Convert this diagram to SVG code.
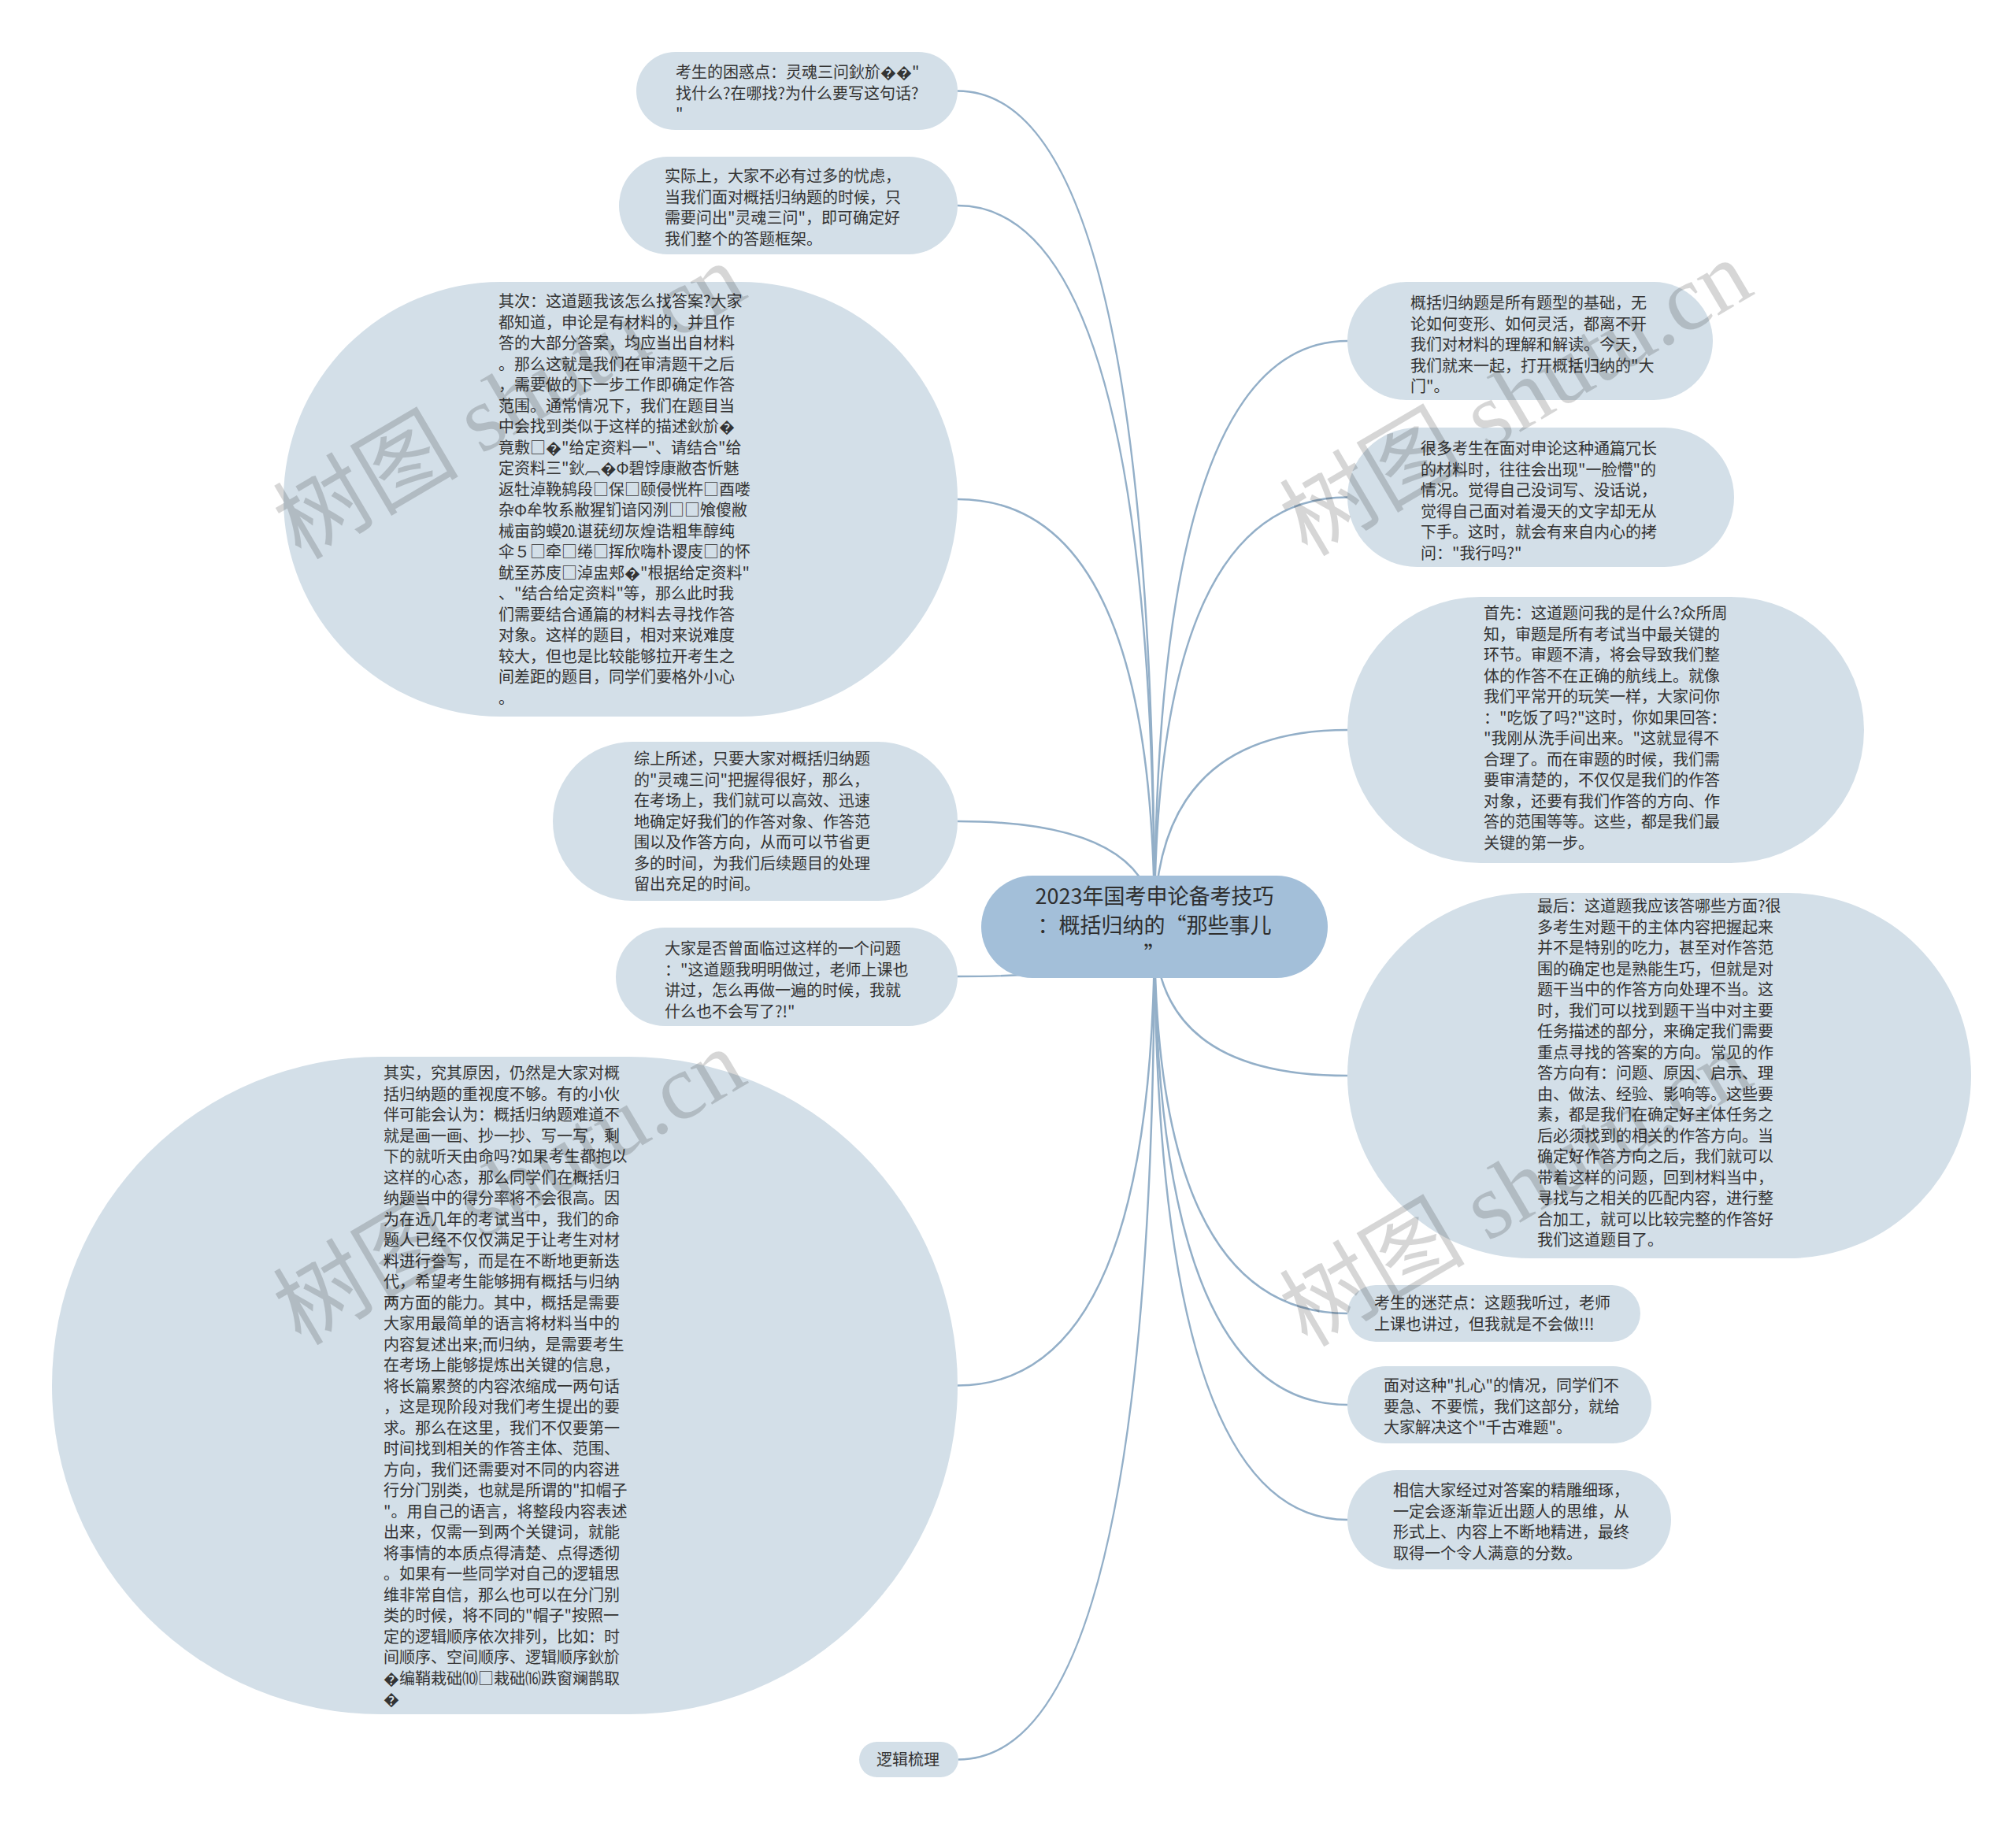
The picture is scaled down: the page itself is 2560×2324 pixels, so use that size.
<svg xmlns="http://www.w3.org/2000/svg" width="2560" height="2324" viewBox="0 0 2560 2324">
<style>
.node{fill:#d3dfe8}
.root{fill:#a3bfd9}
.t{font-family:"Noto Sans CJK SC","Noto Sans",sans-serif;font-size:20px;fill:#333}
.rt{font-family:"Noto Sans CJK SC","Noto Sans",sans-serif;font-size:27px;fill:#2e2e2e;text-anchor:middle}
.edge{fill:none;stroke:#93afc8;stroke-width:2.5}
.wm{font-family:"Liberation Serif","Noto Sans CJK SC",serif;font-size:118px;fill:#000;fill-opacity:0.16}
</style>
<rect width="2560" height="2324" fill="#ffffff"/>
<g id="connectors">
<path class="edge" d="M1466 1178 Q1466 115.5 1216 115.5"/>
<path class="edge" d="M1466 1178 Q1466 261 1216 261"/>
<path class="edge" d="M1466 1178 Q1466 634 1216 634"/>
<path class="edge" d="M1466 1178 Q1466 1043 1216 1043"/>
<path class="edge" d="M1466 1178 Q1466 1240 1216 1240"/>
<path class="edge" d="M1466 1178 Q1466 1759.5 1216 1759.5"/>
<path class="edge" d="M1466 1178 Q1466 2234.5 1217 2234.5"/>
<path class="edge" d="M1466 1178 Q1466 433 1711 433"/>
<path class="edge" d="M1466 1178 Q1466 631.5 1711 631.5"/>
<path class="edge" d="M1466 1178 Q1466 927 1711 927"/>
<path class="edge" d="M1466 1178 Q1466 1366 1711 1366"/>
<path class="edge" d="M1466 1178 Q1466 1668 1711 1668"/>
<path class="edge" d="M1466 1178 Q1466 1784 1711 1784"/>
<path class="edge" d="M1466 1178 Q1466 1930 1711 1930"/>
</g>
<g id="root">
<rect class="root" x="1246" y="1112" width="440" height="130" rx="65"/>
<text class="rt"><tspan x="1466" y="1148">2023年国考申论备考技巧</tspan><tspan x="1466" y="1185">：概括归纳的“那些事儿</tspan><tspan x="1466" y="1222">”</tspan></text>
</g>
<g id="n1">
<rect class="node" x="808" y="66" width="408" height="99" rx="49.5"/>
<text class="t"><tspan x="858" y="99">考生的困惑点：灵魂三问鈥斺��"</tspan><tspan x="858" y="125.5">找什么?在哪找?为什么要写这句话?</tspan><tspan x="858" y="152">"</tspan></text>
</g>
<g id="n2">
<rect class="node" x="786" y="199" width="430" height="124" rx="62"/>
<text class="t"><tspan x="844" y="231">实际上，大家不必有过多的忧虑，</tspan><tspan x="844" y="257.5">当我们面对概括归纳题的时候，只</tspan><tspan x="844" y="284">需要问出"灵魂三问"，即可确定好</tspan><tspan x="844" y="310.5">我们整个的答题框架。</tspan></text>
</g>
<g id="n3">
<rect class="node" x="360" y="358" width="856" height="552" rx="276"/>
<text class="t">
<tspan x="633" y="390">其次：这道题我该怎么找答案?大家</tspan>
<tspan x="633" y="416.5">都知道，申论是有材料的，并且作</tspan>
<tspan x="633" y="443">答的大部分答案，均应当出自材料</tspan>
<tspan x="633" y="469.5">。那么这就是我们在审清题干之后</tspan>
<tspan x="633" y="496">，需要做的下一步工作即确定作答</tspan>
<tspan x="633" y="522.5">范围。通常情况下，我们在题目当</tspan>
<tspan x="633" y="549">中会找到类似于这样的描述鈥斺�</tspan>
<tspan x="633" y="575.5">竟敷□�"给定资料一"、请结合"给</tspan>
<tspan x="633" y="602">定资料三"鈥︹�Φ碧饽康敝杏忻魅</tspan>
<tspan x="633" y="628.5">返牡淖鞔鸫段□保□颐侵恍杵□酉喽</tspan>
<tspan x="633" y="655">杂Φ牟牧系敝猩钔谙冈洌□□飧傻敝</tspan>
<tspan x="633" y="681.5">械亩韵蟆⒛谌莸纫灰煌诰粗隼醇纯</tspan>
<tspan x="633" y="708">伞５□牵□绻□挥欣嗨朴谡庋□的怀</tspan>
<tspan x="633" y="734.5">鱿至苏庋□淖盅郏�"根据给定资料"</tspan>
<tspan x="633" y="761">、"结合给定资料"等，那么此时我</tspan>
<tspan x="633" y="787.5">们需要结合通篇的材料去寻找作答</tspan>
<tspan x="633" y="814">对象。这样的题目，相对来说难度</tspan>
<tspan x="633" y="840.5">较大，但也是比较能够拉开考生之</tspan>
<tspan x="633" y="867">间差距的题目，同学们要格外小心</tspan>
<tspan x="633" y="893.5">。</tspan>
</text>
</g>
<g id="n4">
<rect class="node" x="702" y="942" width="514" height="202" rx="101"/>
<text class="t">
<tspan x="805" y="971">综上所述，只要大家对概括归纳题</tspan>
<tspan x="805" y="997.5">的"灵魂三问"把握得很好，那么，</tspan>
<tspan x="805" y="1024">在考场上，我们就可以高效、迅速</tspan>
<tspan x="805" y="1050.5">地确定好我们的作答对象、作答范</tspan>
<tspan x="805" y="1077">围以及作答方向，从而可以节省更</tspan>
<tspan x="805" y="1103.5">多的时间，为我们后续题目的处理</tspan>
<tspan x="805" y="1130">留出充足的时间。</tspan>
</text>
</g>
<g id="n5">
<rect class="node" x="782" y="1178" width="434" height="125" rx="62.5"/>
<text class="t">
<tspan x="844" y="1212">大家是否曾面临过这样的一个问题</tspan>
<tspan x="844" y="1238.5">："这道题我明明做过，老师上课也</tspan>
<tspan x="844" y="1265">讲过，怎么再做一遍的时候，我就</tspan>
<tspan x="844" y="1291.5">什么也不会写了?!"</tspan>
</text>
</g>
<g id="n6">
<rect class="node" x="66" y="1342" width="1150" height="835" rx="417.5"/>
<text class="t">
<tspan x="487" y="1370">其实，究其原因，仍然是大家对概</tspan>
<tspan x="487" y="1396.5">括归纳题的重视度不够。有的小伙</tspan>
<tspan x="487" y="1423">伴可能会认为：概括归纳题难道不</tspan>
<tspan x="487" y="1449.5">就是画一画、抄一抄、写一写，剩</tspan>
<tspan x="487" y="1476">下的就听天由命吗?如果考生都抱以</tspan>
<tspan x="487" y="1502.5">这样的心态，那么同学们在概括归</tspan>
<tspan x="487" y="1529">纳题当中的得分率将不会很高。因</tspan>
<tspan x="487" y="1555.5">为在近几年的考试当中，我们的命</tspan>
<tspan x="487" y="1582">题人已经不仅仅满足于让考生对材</tspan>
<tspan x="487" y="1608.5">料进行誊写，而是在不断地更新迭</tspan>
<tspan x="487" y="1635">代，希望考生能够拥有概括与归纳</tspan>
<tspan x="487" y="1661.5">两方面的能力。其中，概括是需要</tspan>
<tspan x="487" y="1688">大家用最简单的语言将材料当中的</tspan>
<tspan x="487" y="1714.5">内容复述出来;而归纳，是需要考生</tspan>
<tspan x="487" y="1741">在考场上能够提炼出关键的信息，</tspan>
<tspan x="487" y="1767.5">将长篇累赘的内容浓缩成一两句话</tspan>
<tspan x="487" y="1794">，这是现阶段对我们考生提出的要</tspan>
<tspan x="487" y="1820.5">求。那么在这里，我们不仅要第一</tspan>
<tspan x="487" y="1847">时间找到相关的作答主体、范围、</tspan>
<tspan x="487" y="1873.5">方向，我们还需要对不同的内容进</tspan>
<tspan x="487" y="1900">行分门别类，也就是所谓的"扣帽子</tspan>
<tspan x="487" y="1926.5">"。用自己的语言，将整段内容表述</tspan>
<tspan x="487" y="1953">出来，仅需一到两个关键词，就能</tspan>
<tspan x="487" y="1979.5">将事情的本质点得清楚、点得透彻</tspan>
<tspan x="487" y="2006">。如果有一些同学对自己的逻辑思</tspan>
<tspan x="487" y="2032.5">维非常自信，那么也可以在分门别</tspan>
<tspan x="487" y="2059">类的时候，将不同的"帽子"按照一</tspan>
<tspan x="487" y="2085.5">定的逻辑顺序依次排列，比如：时</tspan>
<tspan x="487" y="2112">间顺序、空间顺序、逻辑顺序鈥斺</tspan>
<tspan x="487" y="2138.5">�编鞘栽础⑽□栽础⒃跌窗斓鹊取</tspan>
<tspan x="487" y="2165">�</tspan>
</text>
</g>
<g id="n7">
<rect class="node" x="1091" y="2212" width="126" height="45" rx="22.5"/>
<text class="t"><tspan x="1113" y="2242">逻辑梳理</tspan></text>
</g>
<g id="r1">
<rect class="node" x="1711" y="358" width="464" height="150" rx="75"/>
<text class="t">
<tspan x="1791" y="392">概括归纳题是所有题型的基础，无</tspan>
<tspan x="1791" y="418.5">论如何变形、如何灵活，都离不开</tspan>
<tspan x="1791" y="445">我们对材料的理解和解读。今天，</tspan>
<tspan x="1791" y="471.5">我们就来一起，打开概括归纳的"大</tspan>
<tspan x="1791" y="498">门"。</tspan>
</text>
</g>
<g id="r2">
<rect class="node" x="1711" y="543" width="491" height="177" rx="88.5"/>
<text class="t">
<tspan x="1804" y="577">很多考生在面对申论这种通篇冗长</tspan>
<tspan x="1804" y="603.5">的材料时，往往会出现"一脸懵"的</tspan>
<tspan x="1804" y="630">情况。觉得自己没词写、没话说，</tspan>
<tspan x="1804" y="656.5">觉得自己面对着漫天的文字却无从</tspan>
<tspan x="1804" y="683">下手。这时，就会有来自内心的拷</tspan>
<tspan x="1804" y="709.5">问："我行吗?"</tspan>
</text>
</g>
<g id="r3">
<rect class="node" x="1711" y="758" width="656" height="338" rx="169"/>
<text class="t">
<tspan x="1884" y="786">首先：这道题问我的是什么?众所周</tspan>
<tspan x="1884" y="812.5">知，审题是所有考试当中最关键的</tspan>
<tspan x="1884" y="839">环节。审题不清，将会导致我们整</tspan>
<tspan x="1884" y="865.5">体的作答不在正确的航线上。就像</tspan>
<tspan x="1884" y="892">我们平常开的玩笑一样，大家问你</tspan>
<tspan x="1884" y="918.5">："吃饭了吗?"这时，你如果回答：</tspan>
<tspan x="1884" y="945">"我刚从洗手间出来。"这就显得不</tspan>
<tspan x="1884" y="971.5">合理了。而在审题的时候，我们需</tspan>
<tspan x="1884" y="998">要审清楚的，不仅仅是我们的作答</tspan>
<tspan x="1884" y="1024.5">对象，还要有我们作答的方向、作</tspan>
<tspan x="1884" y="1051">答的范围等等。这些，都是我们最</tspan>
<tspan x="1884" y="1077.5">关键的第一步。</tspan>
</text>
</g>
<g id="r4">
<rect class="node" x="1711" y="1134" width="792" height="464" rx="232"/>
<text class="t">
<tspan x="1952" y="1158">最后：这道题我应该答哪些方面?很</tspan>
<tspan x="1952" y="1184.5">多考生对题干的主体内容把握起来</tspan>
<tspan x="1952" y="1211">并不是特别的吃力，甚至对作答范</tspan>
<tspan x="1952" y="1237.5">围的确定也是熟能生巧，但就是对</tspan>
<tspan x="1952" y="1264">题干当中的作答方向处理不当。这</tspan>
<tspan x="1952" y="1290.5">时，我们可以找到题干当中对主要</tspan>
<tspan x="1952" y="1317">任务描述的部分，来确定我们需要</tspan>
<tspan x="1952" y="1343.5">重点寻找的答案的方向。常见的作</tspan>
<tspan x="1952" y="1370">答方向有：问题、原因、启示、理</tspan>
<tspan x="1952" y="1396.5">由、做法、经验、影响等。这些要</tspan>
<tspan x="1952" y="1423">素，都是我们在确定好主体任务之</tspan>
<tspan x="1952" y="1449.5">后必须找到的相关的作答方向。当</tspan>
<tspan x="1952" y="1476">确定好作答方向之后，我们就可以</tspan>
<tspan x="1952" y="1502.5">带着这样的问题，回到材料当中，</tspan>
<tspan x="1952" y="1529">寻找与之相关的匹配内容，进行整</tspan>
<tspan x="1952" y="1555.5">合加工，就可以比较完整的作答好</tspan>
<tspan x="1952" y="1582">我们这道题目了。</tspan>
</text>
</g>
<g id="r5">
<rect class="node" x="1711" y="1632" width="372" height="72" rx="36"/>
<text class="t">
<tspan x="1745" y="1662">考生的迷茫点：这题我听过，老师</tspan>
<tspan x="1745" y="1688.5">上课也讲过，但我就是不会做!!!</tspan>
</text>
</g>
<g id="r6">
<rect class="node" x="1711" y="1735" width="386" height="98" rx="49"/>
<text class="t">
<tspan x="1757" y="1767">面对这种"扎心"的情况，同学们不</tspan>
<tspan x="1757" y="1793.5">要急、不要慌，我们这部分，就给</tspan>
<tspan x="1757" y="1820">大家解决这个"千古难题"。</tspan>
</text>
</g>
<g id="r7">
<rect class="node" x="1711" y="1867" width="411" height="126" rx="63"/>
<text class="t">
<tspan x="1769" y="1900">相信大家经过对答案的精雕细琢，</tspan>
<tspan x="1769" y="1926.5">一定会逐渐靠近出题人的思维，从</tspan>
<tspan x="1769" y="1953">形式上、内容上不断地精进，最终</tspan>
<tspan x="1769" y="1979.5">取得一个令人满意的分数。</tspan>
</text>
</g>
<g id="watermarks">
<text class="wm" transform="translate(382 712) rotate(-30.5)">树图 shutu.cn</text>
<text class="wm" transform="translate(1660 708) rotate(-30.5)">树图 shutu.cn</text>
<text class="wm" transform="translate(382 1710) rotate(-30.5)">树图 shutu.cn</text>
<text class="wm" transform="translate(1660 1712) rotate(-30.5)">树图 shutu.cn</text>
</g>
</svg>
